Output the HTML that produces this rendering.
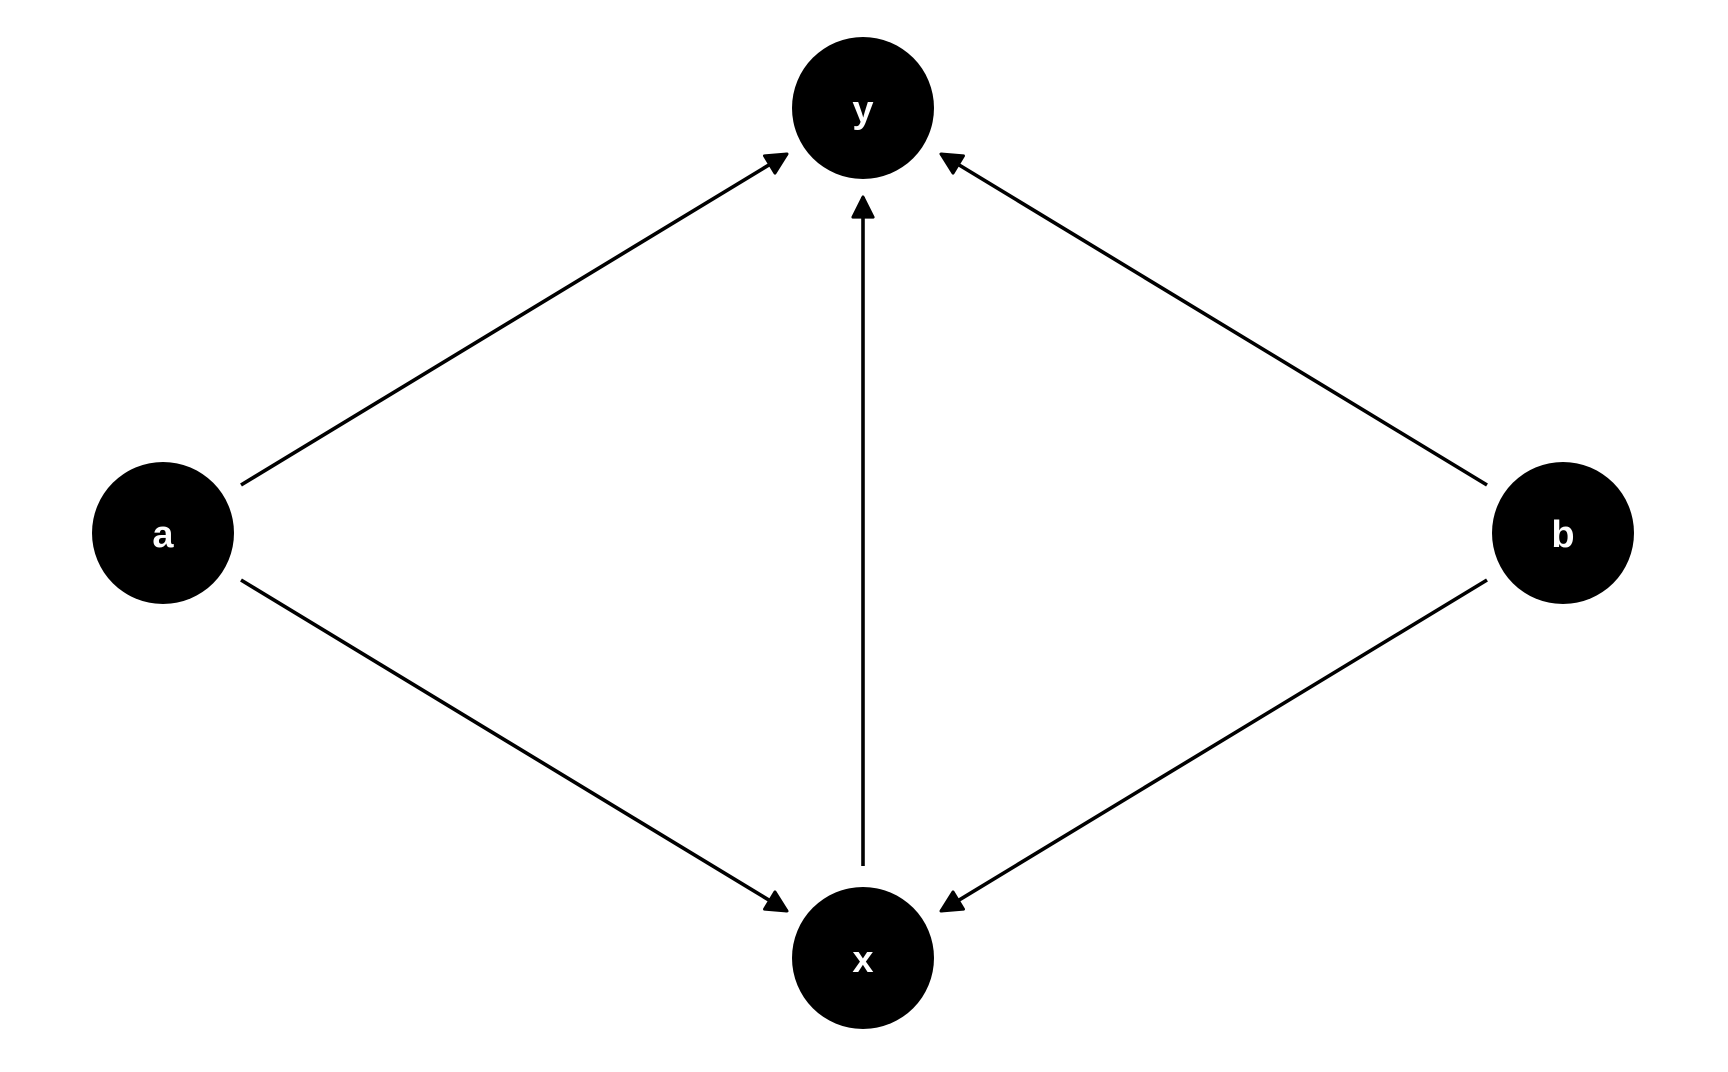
<!DOCTYPE html>
<html><head><meta charset="utf-8"><style>html,body{margin:0;padding:0;background:#fff}</style></head>
<body>
<svg width="1728" height="1067" viewBox="0 0 1728 1067" xmlns="http://www.w3.org/2000/svg">
<defs>
<marker id="ah" viewBox="0 0 10 10" refX="9" refY="5" markerWidth="7" markerHeight="7" markerUnits="strokeWidth" orient="auto">
<path d="M1,1 L9,5 L1,9 Z" fill="#000" stroke="#000" stroke-width="1.2" stroke-linejoin="round"/>
</marker>
</defs>
<g stroke="#000" stroke-width="3.6" fill="none">
<line x1="241" y1="485" x2="787" y2="154" marker-end="url(#ah)"/>
<line x1="1487" y1="485" x2="941" y2="154" marker-end="url(#ah)"/>
<line x1="241" y1="580" x2="787" y2="911" marker-end="url(#ah)"/>
<line x1="1487" y1="580" x2="941" y2="911" marker-end="url(#ah)"/>
<line x1="863" y1="866" x2="863" y2="197" marker-end="url(#ah)"/>
</g>
<g fill="#000">
<circle cx="863" cy="108" r="71"/>
<circle cx="163" cy="533" r="71"/>
<circle cx="1563" cy="533" r="71"/>
<circle cx="863" cy="958" r="71"/>
</g>
<g fill="#fff" font-family="Liberation Sans, sans-serif" font-weight="bold" font-size="38" text-anchor="middle">
<text x="863" y="122">y</text>
<text x="163" y="547">a</text>
<text x="1563" y="547">b</text>
<text x="863" y="972">x</text>
</g>
</svg>
</body></html>
